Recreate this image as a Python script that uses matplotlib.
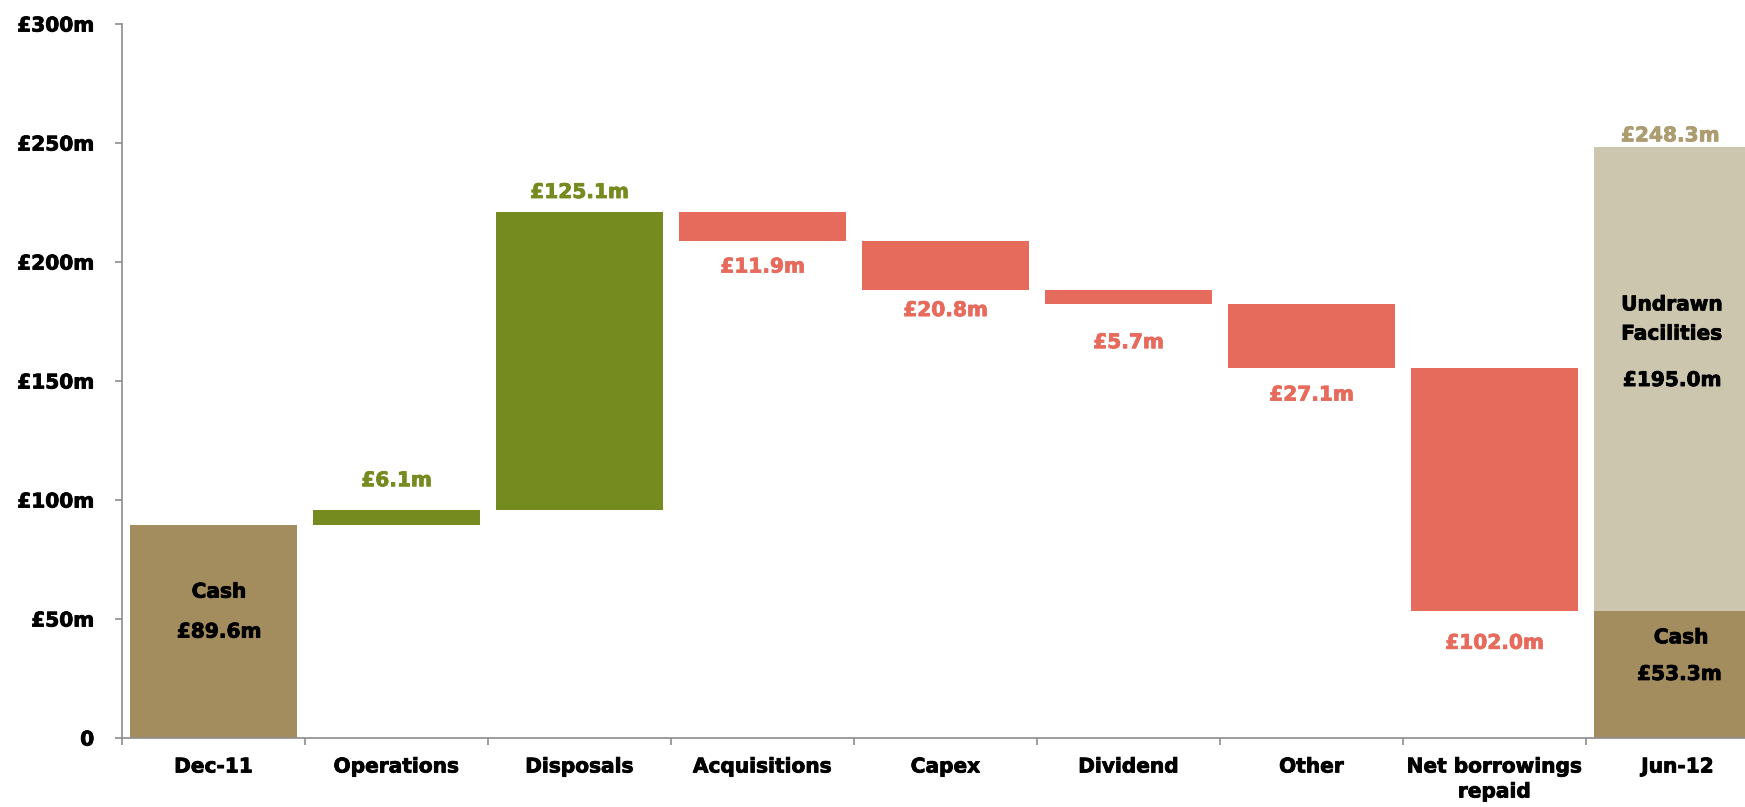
import matplotlib
matplotlib.use("Agg")
import matplotlib.pyplot as plt
import matplotlib.patheffects as pe
import numpy as np

# Cash bridge, Dec-11 to Jun-12 (GBP millions)
categories = ["Dec-11", "Operations", "Disposals", "Acquisitions", "Capex",
              "Dividend", "Other", "Net borrowings\nrepaid", "Jun-12"]
opening_cash = 89.6
movements = [6.1, 125.1, -11.9, -20.8, -5.7, -27.1, -102.0]
closing_cash = 53.3
undrawn_facilities = 195.0
y_ticks = [0, 50, 100, 150, 200, 250, 300]
y_tick_labels = ["0", "£50m", "£100m", "£150m", "£200m", "£250m", "£300m"]

TAN = "#A38D5F"
BEIGE = "#CCC6AE"
GREEN = "#768B1F"
RED = "#E66B5C"
AXIS_GREY = "#8C8C8C"
FS = 14.5
WEIGHT = "bold"


def heavy(color):
    # thicken the bold face a little with a same-colour outline
    return [pe.withStroke(linewidth=0.6, foreground=color)]


plt.rcParams["font.family"] = ["DejaVu Sans"]
plt.rcParams["font.weight"] = WEIGHT

fig = plt.figure(figsize=(17.45, 8.07), dpi=100)
ax = fig.add_axes([122 / 1745, 1 - 738 / 807, 1647 / 1745, 714 / 807])

width = 0.913
x = np.arange(len(categories))


def label(xv, yv, s, color="black"):
    ax.text(xv, yv, s, ha="center", va="center", color=color, fontsize=FS,
            fontweight=WEIGHT, path_effects=heavy(color))


# opening balance
ax.bar(x[0], opening_cash, width=width, color=TAN)

# floating movement bars
running = opening_cash
# gap between bar end and its value label, in £m
label_gap = [12.4, 8.4, 11.0, 8.5, 16.3, 11.2, 13.5]
for i, mv in enumerate(movements):
    xi = x[i + 1]
    start = running
    end = running + mv
    color = GREEN if mv > 0 else RED
    ax.bar(xi, mv, bottom=start, width=width, color=color)
    txt = f"£{abs(mv):.1f}m"
    if mv > 0:
        label(xi, end + label_gap[i], txt, GREEN)
    else:
        label(xi, end - label_gap[i], txt, RED)
    running = end

# closing position: cash plus undrawn facilities
ax.bar(x[-1], closing_cash, width=width, color=TAN)
ax.bar(x[-1], undrawn_facilities, bottom=closing_cash, width=width, color=BEIGE)
total = closing_cash + undrawn_facilities
label(x[-1] - 0.04, total + 4.7, f"£{total:.1f}m", "#AD9C70")

# in-bar labels
label(x[0] + 0.03, 61.3, "Cash")
label(x[0] + 0.03, 44.5, f"£{opening_cash:.1f}m")
label(x[-1] - 0.03, 182.0, "Undrawn")
label(x[-1] - 0.03, 169.7, "Facilities")
label(x[-1] - 0.03, 150.2, f"£{undrawn_facilities:.1f}m")
label(x[-1] + 0.02, 42.1, "Cash")
label(x[-1] + 0.01, 26.7, f"£{closing_cash:.1f}m")

ax.set_xlim(-0.5, len(categories) - 0.5)
ax.set_ylim(0, 300)

ax.set_yticks(y_ticks)
ax.set_yticklabels(y_tick_labels, fontsize=FS, fontweight=WEIGHT)

# boundary ticks between categories, names centred under each bar
ax.set_xticks(np.arange(-0.5, len(categories) - 0.5, 1.0))
ax.set_xticklabels([])
ax.set_xticks(x, minor=True)
ax.set_xticklabels(categories, minor=True, fontsize=FS, fontweight=WEIGHT,
                   linespacing=1.4, va="top")
for t in ax.get_yticklabels() + ax.get_xticklabels(minor=True):
    t.set_path_effects(heavy("black"))
ax.tick_params(axis="x", which="minor", length=0, pad=14)
ax.tick_params(axis="x", which="major", length=5, width=1.2, color=AXIS_GREY, direction="out")
ax.tick_params(axis="y", length=5, width=1.2, color=AXIS_GREY, direction="out", pad=15)

for side in ("top", "right"):
    ax.spines[side].set_visible(False)
for side in ("left", "bottom"):
    ax.spines[side].set_color(AXIS_GREY)
    ax.spines[side].set_linewidth(1.2)

fig.savefig("out.png", dpi=100)
